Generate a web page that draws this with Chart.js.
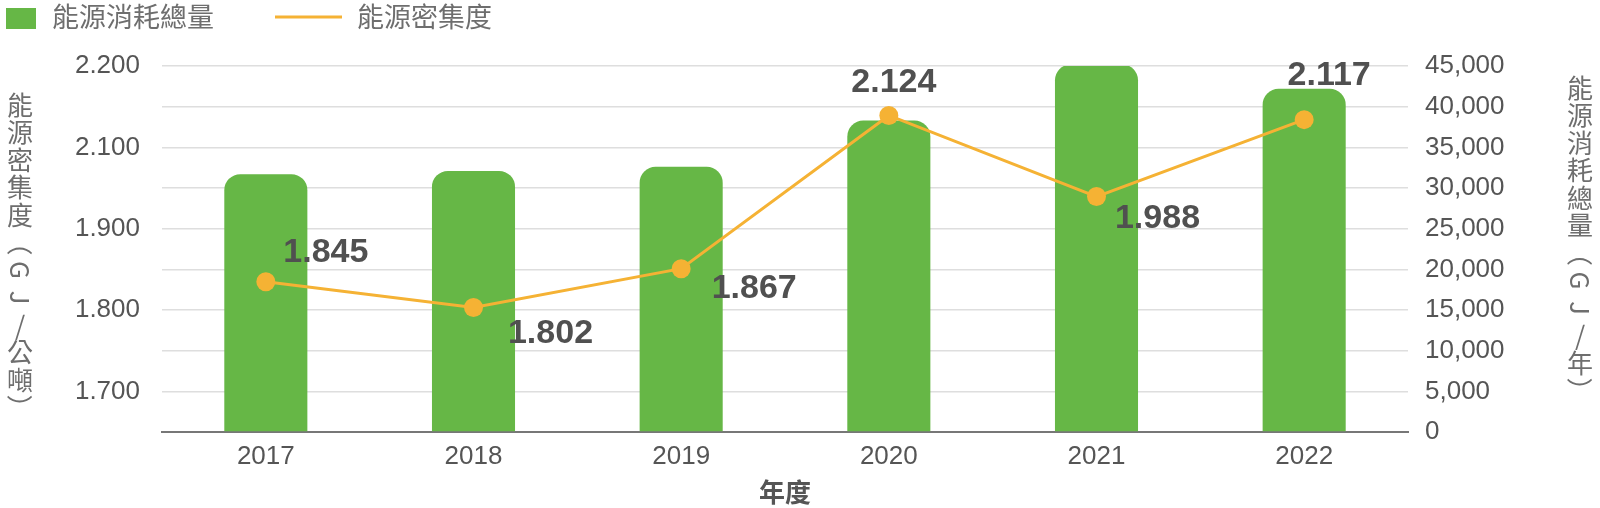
<!DOCTYPE html>
<html>
<head>
<meta charset="utf-8">
<script src="https://cdn.jsdelivr.net/npm/chart.js@4.4.1/dist/chart.umd.min.js"></script>
<style>
  html, body { margin: 0; padding: 0; background: #fff; }
  #wrap { width: 1600px; height: 508px; }
</style>
</head>
<body>
<div id="wrap"><canvas id="chart"></canvas></div>
<script>
// data
var years = ['2017', '2018', '2019', '2020', '2021', '2022'];
var consumption = [31700, 32100, 32600, 38300, 45200, 42200];   // GJ/年
var intensity = [1.845, 1.802, 1.867, 2.124, 1.988, 2.117];     // GJ/公噸
var intensityTicks = ['1.700', '1.800', '1.900', '2.100', '2.200'];
var seriesNames = ['能源消耗總量', '能源密集度'];
var leftTitle = '能源密集度（GJ/公噸）';
var rightTitle = '能源消耗總量（GJ/年）';
var xTitle = '年度';

// scale ranges
var consumptionMax = 45000, consumptionStep = 5000;
var leftMin = 1.593, leftMax = 2.207;

// where each value label sits relative to its point (px)
var labelOffsets = [[60, -29], [77, 26], [73, 20], [5, -33], [61, 22], [25, -44]];

var GREEN = '#66b746';
var ORANGE = '#f5b234';
var TEXT = '#555555';
var SOFT = '#6e6e6e';
var NUM_FONT = '"Liberation Sans", Arial, sans-serif';
var CJK_FONT = '"Noto Sans CJK TC", "Noto Sans CJK SC", sans-serif';

/** Bold value labels next to the intensity points. */
var valueLabels = {
  id: 'valueLabels',
  afterDatasetsDraw: function (chart) {
    var ctx = chart.ctx;
    var meta = chart.getDatasetMeta(0);
    ctx.save();
    ctx.font = 'bold 34px ' + NUM_FONT;
    ctx.fillStyle = '#505050';
    ctx.textAlign = 'center';
    ctx.textBaseline = 'middle';
    meta.data.forEach(function (pt, i) {
      var o = labelOffsets[i];
      ctx.fillText(intensity[i].toFixed(3), pt.x + o[0], pt.y + o[1]);
    });
    ctx.restore();
  }
};

/** Stacked (vertical) axis titles; brackets and latin letters turned sideways. */
function drawVertical(ctx, text, x, y0, step) {
  Array.from(text).forEach(function (ch, i) {
    ctx.save();
    ctx.translate(x, y0 + i * step);
    if (/[（）A-Za-z]/.test(ch)) ctx.rotate(Math.PI / 2);
    ctx.fillText(ch, 0, 0);
    ctx.restore();
  });
}

var sideTitles = {
  id: 'sideTitles',
  afterDraw: function (chart) {
    var ctx = chart.ctx;
    ctx.save();
    ctx.font = '26px ' + CJK_FONT;
    ctx.fillStyle = SOFT;
    ctx.textAlign = 'center';
    ctx.textBaseline = 'middle';
    drawVertical(ctx, leftTitle, 20, 105, 27.5);
    drawVertical(ctx, rightTitle, 1580, 88, 27.5);
    ctx.restore();
  }
};

/** Legend in the top-left corner: box for the bars, stroke for the line. */
var topLegend = {
  id: 'topLegend',
  afterDraw: function (chart) {
    var ctx = chart.ctx;
    var ds = chart.data.datasets;
    ctx.save();
    ctx.fillStyle = ds[1].backgroundColor;
    ctx.fillRect(6, 8, 30, 21);
    ctx.strokeStyle = ds[0].borderColor;
    ctx.lineWidth = 3;
    ctx.beginPath(); ctx.moveTo(275, 17); ctx.lineTo(342, 17); ctx.stroke();
    ctx.font = '27px ' + CJK_FONT;
    ctx.fillStyle = SOFT;
    ctx.textAlign = 'left';
    ctx.textBaseline = 'middle';
    ctx.fillText(ds[1].label, 52, 17);
    ctx.fillText(ds[0].label, 357, 17);
    ctx.restore();
  }
};

var tickFont = { family: NUM_FONT, size: 26 };

new Chart(document.getElementById('chart'), {
  data: {
    labels: years,
    datasets: [
      {
        type: 'line', label: seriesNames[1], data: intensity, yAxisID: 'yL', order: 0,
        borderColor: ORANGE, backgroundColor: ORANGE, borderWidth: 3, tension: 0,
        pointRadius: 9.5, pointBorderWidth: 0, pointBackgroundColor: ORANGE
      },
      {
        type: 'bar', label: seriesNames[0], data: consumption, yAxisID: 'yR', order: 1,
        backgroundColor: GREEN, borderRadius: { topLeft: 16, topRight: 16 }, borderSkipped: 'start',
        barPercentage: 0.4, categoryPercentage: 1
      }
    ]
  },
  options: {
    responsive: true, maintainAspectRatio: false, animation: false,
    layout: { padding: { top: 66, left: 0, right: 0, bottom: 0 } },
    plugins: { legend: { display: false }, tooltip: { enabled: false } },
    scales: {
      x: {
        grid: { display: false, drawTicks: false },
        border: { display: true, color: '#777', width: 2 },
        ticks: { color: TEXT, font: tickFont, padding: 9 },
        title: { display: true, text: xTitle, color: TEXT,
          font: { family: CJK_FONT, size: 26, weight: 'bold' }, padding: { top: 2, bottom: 0 } },
        afterFit: function (s) { s.height = 76; }
      },
      yL: {
        position: 'left', min: leftMin, max: leftMax,
        grid: { display: false, drawTicks: false }, border: { display: false },
        ticks: { color: TEXT, font: tickFont, padding: 22,
          callback: function (v, i) { return intensityTicks[i]; } },
        afterBuildTicks: function (s) {
          s.ticks = intensityTicks.map(function (_, i) {
            return { value: leftMin + (leftMax - leftMin) * (2 * i + 1) / 9 };
          });
        },
        afterFit: function (s) { s.width = 162; }
      },
      yR: {
        position: 'right', min: 0, max: consumptionMax,
        grid: { color: '#dedede', lineWidth: 1.5, drawTicks: false }, border: { display: false },
        ticks: { stepSize: consumptionStep, color: TEXT, font: tickFont, padding: 17,
          callback: function (v) { return Number(v).toLocaleString('en-US'); } },
        afterFit: function (s) { s.width = 192; }
      }
    }
  },
  plugins: [valueLabels, sideTitles, topLegend]
});
</script>
</body>
</html>
